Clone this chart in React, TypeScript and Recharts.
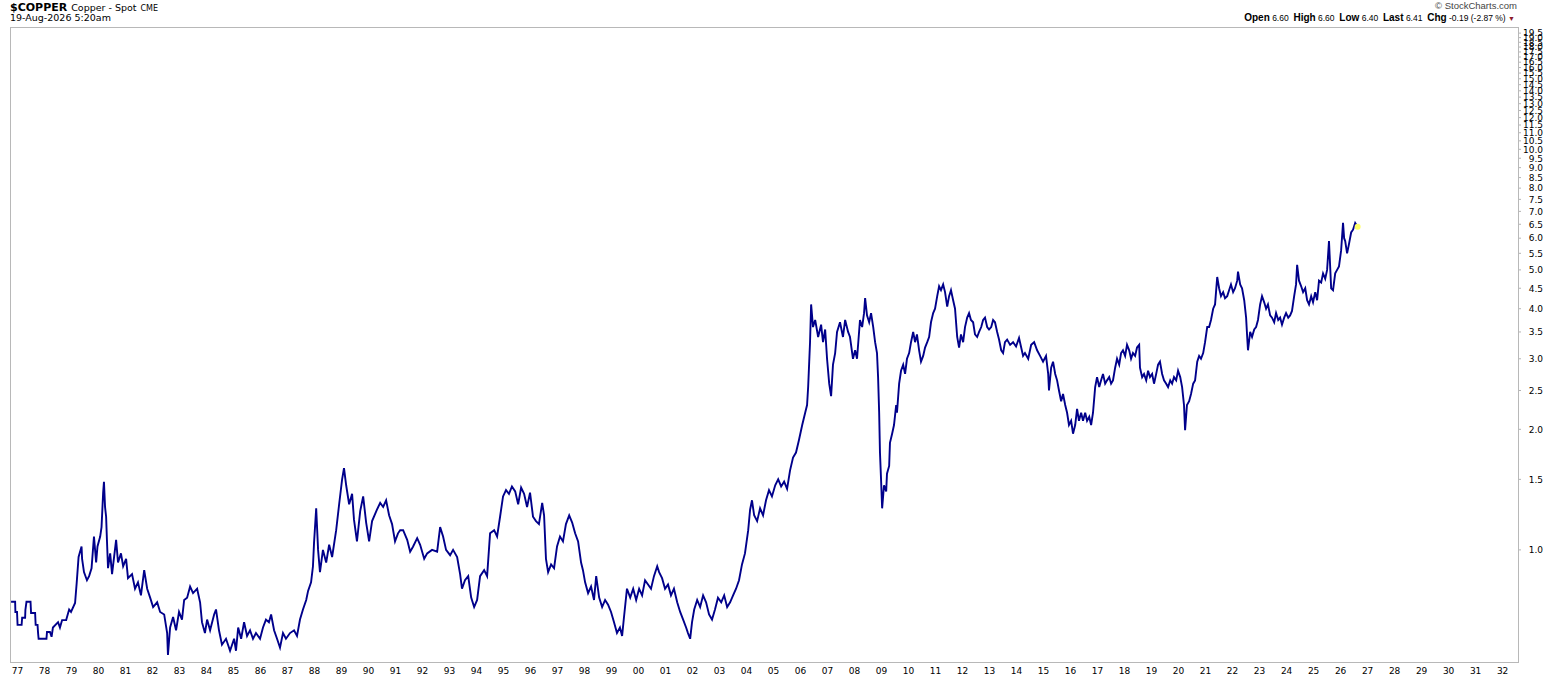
import React from 'react';
import { LineChart, Line, XAxis, YAxis, ReferenceDot } from 'recharts';

// [decimal year, price in $/lb]
const seg1977to1987: [number, number][] = [
  [1976.76, 0.742], [1976.91, 0.742], [1976.92, 0.7], [1976.98, 0.7], [1977.0, 0.65], [1977.15, 0.65],
  [1977.17, 0.677], [1977.28, 0.677], [1977.29, 0.708], [1977.33, 0.742], [1977.48, 0.742], [1977.5, 0.696],
  [1977.65, 0.696], [1977.67, 0.65], [1977.74, 0.65], [1977.76, 0.62], [1977.78, 0.6], [1978.07, 0.6],
  [1978.09, 0.624], [1978.2, 0.624], [1978.26, 0.607], [1978.31, 0.64], [1978.5, 0.66], [1978.57, 0.64],
  [1978.65, 0.668], [1978.8, 0.668], [1978.91, 0.71], [1978.98, 0.7], [1979.13, 0.737], [1979.19, 0.827],
  [1979.26, 0.96], [1979.37, 1.02], [1979.39, 0.95], [1979.46, 0.88], [1979.57, 0.84], [1979.65, 0.86],
  [1979.74, 0.9], [1979.83, 1.08], [1979.91, 0.93], [1979.96, 1.02], [1980.06, 1.08], [1980.11, 1.14],
  [1980.17, 1.39], [1980.2, 1.48], [1980.24, 1.28], [1980.28, 1.21], [1980.31, 1.06], [1980.35, 0.9],
  [1980.43, 0.98], [1980.5, 0.87], [1980.65, 1.06], [1980.72, 0.93], [1980.83, 0.98], [1980.91, 0.91],
  [1981.02, 0.95], [1981.09, 0.85], [1981.24, 0.87], [1981.35, 0.8], [1981.46, 0.83], [1981.57, 0.77],
  [1981.69, 0.89], [1981.8, 0.8], [1981.91, 0.76], [1982.02, 0.72], [1982.17, 0.74], [1982.28, 0.7],
  [1982.43, 0.69], [1982.54, 0.62], [1982.57, 0.547], [1982.65, 0.64], [1982.76, 0.68], [1982.87, 0.63],
  [1982.98, 0.7], [1983.09, 0.67], [1983.17, 0.75], [1983.28, 0.76], [1983.39, 0.81], [1983.5, 0.78],
  [1983.65, 0.8], [1983.76, 0.74], [1983.83, 0.66], [1983.94, 0.62], [1984.02, 0.67], [1984.13, 0.63],
  [1984.28, 0.69], [1984.35, 0.71], [1984.46, 0.63], [1984.57, 0.58], [1984.72, 0.6], [1984.87, 0.56],
  [1985.02, 0.6], [1985.09, 0.56], [1985.17, 0.64], [1985.28, 0.6], [1985.39, 0.66], [1985.5, 0.61],
  [1985.61, 0.63], [1985.72, 0.6], [1985.83, 0.62], [1985.98, 0.6], [1986.09, 0.64], [1986.2, 0.67],
  [1986.31, 0.66], [1986.39, 0.69], [1986.5, 0.63], [1986.61, 0.6], [1986.72, 0.57], [1986.83, 0.62],
  [1986.94, 0.6], [1987.09, 0.62], [1987.24, 0.63], [1987.35, 0.61], [1987.46, 0.67], [1987.57, 0.71],
  [1987.69, 0.75], [1987.76, 0.79], [1987.87, 0.83], [1987.94, 0.91],
];

const seg1988to1999: [number, number][] = [
  [1987.98, 1.04], [1988.06, 1.27], [1988.13, 1.0], [1988.2, 0.88], [1988.31, 1.0], [1988.43, 0.93],
  [1988.54, 1.03], [1988.65, 0.96], [1988.8, 1.12], [1988.91, 1.3], [1989.02, 1.5], [1989.09, 1.6],
  [1989.17, 1.45], [1989.28, 1.3], [1989.39, 1.38], [1989.46, 1.19], [1989.57, 1.05], [1989.69, 1.25],
  [1989.8, 1.36], [1989.91, 1.17], [1990.02, 1.05], [1990.13, 1.18], [1990.31, 1.26], [1990.43, 1.31],
  [1990.54, 1.28], [1990.65, 1.33], [1990.76, 1.22], [1990.87, 1.16], [1990.98, 1.05], [1991.09, 1.1],
  [1991.17, 1.12], [1991.28, 1.12], [1991.43, 1.06], [1991.54, 0.99], [1991.65, 1.02], [1991.8, 1.07],
  [1991.91, 1.03], [1992.06, 0.95], [1992.17, 0.98], [1992.35, 1.0], [1992.54, 0.99], [1992.65, 1.14],
  [1992.76, 1.08], [1992.87, 1.0], [1993.02, 0.97], [1993.13, 1.0], [1993.28, 0.96], [1993.39, 0.87],
  [1993.46, 0.8], [1993.57, 0.84], [1993.69, 0.86], [1993.8, 0.76], [1993.91, 0.72], [1994.02, 0.75],
  [1994.13, 0.86], [1994.28, 0.89], [1994.39, 0.86], [1994.5, 1.1], [1994.65, 1.12], [1994.76, 1.08],
  [1994.87, 1.21], [1994.98, 1.36], [1995.09, 1.41], [1995.2, 1.38], [1995.31, 1.44], [1995.43, 1.4],
  [1995.54, 1.3], [1995.65, 1.43], [1995.76, 1.38], [1995.87, 1.28], [1995.98, 1.39], [1996.09, 1.21],
  [1996.2, 1.18], [1996.31, 1.16], [1996.43, 1.31], [1996.5, 1.22], [1996.57, 0.95], [1996.65, 0.88],
  [1996.76, 0.92], [1996.87, 0.9], [1996.98, 1.02], [1997.09, 1.08], [1997.2, 1.05], [1997.31, 1.16],
  [1997.43, 1.22], [1997.54, 1.17], [1997.65, 1.1], [1997.76, 1.05], [1997.87, 0.93], [1997.94, 0.89],
  [1998.02, 0.83], [1998.13, 0.78], [1998.24, 0.81], [1998.35, 0.75], [1998.43, 0.86], [1998.54, 0.76],
  [1998.65, 0.72], [1998.76, 0.75], [1998.87, 0.73], [1998.98, 0.7], [1999.09, 0.66], [1999.2, 0.62],
  [1999.31, 0.64], [1999.39, 0.61], [1999.46, 0.68], [1999.57, 0.8], [1999.69, 0.76], [1999.8, 0.8],
  [1999.91, 0.75],
];

const seg2000to2010: [number, number][] = [
  [2000.02, 0.8], [2000.13, 0.77], [2000.24, 0.84], [2000.35, 0.82], [2000.46, 0.8], [2000.57, 0.86],
  [2000.69, 0.91], [2000.76, 0.88], [2000.87, 0.85], [2000.98, 0.8], [2001.09, 0.82], [2001.2, 0.77],
  [2001.31, 0.8], [2001.43, 0.74], [2001.54, 0.7], [2001.65, 0.67], [2001.76, 0.64], [2001.83, 0.62],
  [2001.91, 0.6], [2001.98, 0.66], [2002.06, 0.71], [2002.17, 0.75], [2002.28, 0.72], [2002.39, 0.77],
  [2002.5, 0.74], [2002.61, 0.69], [2002.72, 0.67], [2002.83, 0.71], [2002.94, 0.76], [2003.06, 0.74],
  [2003.17, 0.77], [2003.28, 0.72], [2003.39, 0.74], [2003.5, 0.77], [2003.61, 0.8], [2003.72, 0.84],
  [2003.83, 0.92], [2003.94, 0.98], [2004.06, 1.12], [2004.13, 1.26], [2004.2, 1.33], [2004.28, 1.22],
  [2004.39, 1.18], [2004.5, 1.27], [2004.61, 1.22], [2004.72, 1.33], [2004.83, 1.41], [2004.94, 1.36],
  [2005.06, 1.45], [2005.17, 1.5], [2005.28, 1.44], [2005.39, 1.48], [2005.5, 1.42], [2005.61, 1.58],
  [2005.72, 1.7], [2005.83, 1.75], [2005.94, 1.88], [2006.06, 2.05], [2006.17, 2.2], [2006.24, 2.3],
  [2006.28, 2.55], [2006.35, 3.3], [2006.39, 4.1], [2006.46, 3.6], [2006.54, 3.75], [2006.65, 3.4],
  [2006.76, 3.65], [2006.83, 3.3], [2006.91, 3.55], [2006.98, 3.0], [2007.06, 2.6], [2007.13, 2.42],
  [2007.2, 2.9], [2007.28, 3.1], [2007.35, 3.5], [2007.46, 3.7], [2007.57, 3.4], [2007.65, 3.75],
  [2007.76, 3.5], [2007.83, 3.4], [2007.94, 3.0], [2008.02, 3.15], [2008.09, 3.0], [2008.2, 3.75],
  [2008.28, 3.6], [2008.35, 3.9], [2008.39, 4.25], [2008.46, 3.85], [2008.54, 3.7], [2008.61, 3.9],
  [2008.69, 3.6], [2008.76, 3.3], [2008.83, 3.1], [2008.87, 2.7], [2008.91, 2.2], [2008.94, 1.75],
  [2008.98, 1.5], [2009.02, 1.27], [2009.09, 1.45], [2009.17, 1.4], [2009.2, 1.55], [2009.28, 1.62],
  [2009.31, 1.85], [2009.39, 1.95], [2009.46, 2.05], [2009.54, 2.3], [2009.57, 2.2], [2009.65, 2.6],
  [2009.72, 2.8], [2009.8, 2.9], [2009.87, 2.75], [2009.94, 3.0], [2010.02, 3.1], [2010.09, 3.3],
  [2010.17, 3.5], [2010.24, 3.3], [2010.31, 3.45], [2010.39, 3.15], [2010.46, 2.95], [2010.54, 3.05],
  [2010.61, 3.2], [2010.69, 3.3], [2010.76, 3.4], [2010.83, 3.7], [2010.91, 3.9], [2010.98, 4.0],
];

const seg2011to2019: [number, number][] = [
  [2011.06, 4.3], [2011.13, 4.55], [2011.2, 4.45], [2011.28, 4.6], [2011.35, 4.4], [2011.43, 4.05],
  [2011.5, 4.3], [2011.57, 4.45], [2011.65, 4.2], [2011.72, 4.0], [2011.8, 3.4], [2011.87, 3.2],
  [2011.94, 3.45], [2012.02, 3.3], [2012.09, 3.6], [2012.17, 3.8], [2012.24, 3.9], [2012.31, 3.75],
  [2012.39, 3.7], [2012.46, 3.45], [2012.54, 3.4], [2012.61, 3.5], [2012.69, 3.6], [2012.76, 3.75],
  [2012.83, 3.8], [2012.91, 3.6], [2012.98, 3.55], [2013.06, 3.6], [2013.13, 3.75], [2013.2, 3.7],
  [2013.28, 3.5], [2013.35, 3.35], [2013.43, 3.15], [2013.5, 3.1], [2013.57, 3.3], [2013.65, 3.35],
  [2013.76, 3.25], [2013.87, 3.3], [2013.98, 3.22], [2014.09, 3.38], [2014.17, 3.2], [2014.24, 3.05],
  [2014.31, 3.1], [2014.43, 3.0], [2014.54, 3.25], [2014.65, 3.3], [2014.76, 3.15], [2014.87, 3.05],
  [2014.98, 2.95], [2015.09, 3.05], [2015.17, 2.75], [2015.2, 2.5], [2015.28, 2.85], [2015.35, 2.95],
  [2015.43, 2.75], [2015.5, 2.65], [2015.57, 2.5], [2015.65, 2.35], [2015.72, 2.45], [2015.8, 2.3],
  [2015.87, 2.2], [2015.94, 2.05], [2016.02, 2.1], [2016.09, 1.95], [2016.17, 2.05], [2016.24, 2.25],
  [2016.31, 2.1], [2016.39, 2.2], [2016.46, 2.1], [2016.54, 2.2], [2016.61, 2.1], [2016.69, 2.15],
  [2016.76, 2.05], [2016.83, 2.2], [2016.91, 2.55], [2016.98, 2.7], [2017.06, 2.55], [2017.13, 2.65],
  [2017.2, 2.75], [2017.28, 2.6], [2017.35, 2.65], [2017.43, 2.7], [2017.5, 2.6], [2017.57, 2.65],
  [2017.65, 2.85], [2017.72, 3.0], [2017.8, 2.9], [2017.87, 3.1], [2017.94, 3.15], [2018.02, 3.05],
  [2018.09, 3.25], [2018.17, 3.15], [2018.24, 3.0], [2018.31, 3.1], [2018.39, 3.05], [2018.46, 3.2],
  [2018.54, 3.25], [2018.57, 2.85], [2018.65, 2.7], [2018.72, 2.75], [2018.8, 2.65], [2018.87, 2.8],
  [2018.94, 2.7], [2019.02, 2.75], [2019.09, 2.6], [2019.17, 2.75], [2019.24, 2.9], [2019.31, 2.95],
  [2019.39, 2.75], [2019.46, 2.65], [2019.54, 2.6], [2019.61, 2.55], [2019.69, 2.65], [2019.76, 2.6],
  [2019.83, 2.7], [2019.91, 2.65], [2019.98, 2.8],
];

const seg2020to2026: [number, number][] = [
  [2020.06, 2.7], [2020.13, 2.55], [2020.2, 2.3], [2020.24, 1.99], [2020.31, 2.3], [2020.39, 2.35],
  [2020.46, 2.45], [2020.54, 2.6], [2020.61, 2.65], [2020.69, 2.95], [2020.76, 3.05], [2020.83, 3.0],
  [2020.91, 3.1], [2020.98, 3.3], [2021.06, 3.6], [2021.13, 3.6], [2021.2, 3.75], [2021.28, 4.0],
  [2021.35, 4.1], [2021.43, 4.8], [2021.5, 4.5], [2021.57, 4.3], [2021.65, 4.4], [2021.72, 4.25],
  [2021.8, 4.3], [2021.87, 4.45], [2021.94, 4.6], [2022.02, 4.4], [2022.09, 4.5], [2022.17, 4.7],
  [2022.2, 4.95], [2022.28, 4.6], [2022.35, 4.5], [2022.43, 4.2], [2022.5, 3.8], [2022.54, 3.4],
  [2022.57, 3.15], [2022.65, 3.5], [2022.72, 3.4], [2022.8, 3.55], [2022.87, 3.6], [2022.94, 3.75],
  [2023.02, 4.1], [2023.09, 4.3], [2023.17, 4.15], [2023.24, 4.0], [2023.31, 4.1], [2023.39, 3.85],
  [2023.46, 3.8], [2023.54, 3.7], [2023.61, 3.9], [2023.69, 3.75], [2023.76, 3.8], [2023.83, 3.65],
  [2023.91, 3.8], [2023.98, 3.9], [2024.06, 3.8], [2024.13, 3.85], [2024.2, 3.95], [2024.28, 4.3],
  [2024.35, 4.6], [2024.39, 5.15], [2024.46, 4.7], [2024.54, 4.55], [2024.61, 4.4], [2024.69, 4.5],
  [2024.76, 4.2], [2024.83, 4.1], [2024.91, 4.3], [2024.98, 4.15], [2025.06, 4.4], [2025.13, 4.2],
  [2025.2, 4.7], [2025.28, 4.65], [2025.35, 4.9], [2025.43, 4.75], [2025.5, 5.0], [2025.57, 5.9],
  [2025.65, 4.5], [2025.72, 4.45], [2025.8, 4.9], [2025.87, 5.0], [2025.94, 5.1], [2026.02, 5.6],
  [2026.09, 6.55], [2026.13, 6.0], [2026.17, 5.9], [2026.24, 5.5], [2026.31, 5.8], [2026.39, 6.2],
  [2026.46, 6.3], [2026.54, 6.55], [2026.63, 6.41],
];

const priceTicks = [
  1.0, 1.5, 2.0, 2.5, 3.0, 3.5, 4.0, 4.5, 5.0, 5.5, 6.0, 6.5, 7.0, 7.5, 8.0, 8.5, 9.0, 9.5, 10.0,
  10.5, 11.0, 11.5, 12.0, 12.5, 13.0, 13.5, 14.0, 14.5, 15.0, 15.5, 16.0, 16.5, 17.0, 17.5, 18.0,
  18.5, 19.0, 19.5,
];

const yearTicks = [
  1977, 1978, 1979, 1980, 1981, 1982, 1983, 1984, 1985, 1986, 1987, 1988, 1989, 1990, 1991, 1992,
  1993, 1994, 1995, 1996, 1997, 1998, 1999, 2000, 2001, 2002, 2003, 2004, 2005, 2006, 2007, 2008,
  2009, 2010, 2011, 2012, 2013, 2014, 2015, 2016, 2017, 2018, 2019, 2020, 2021, 2022, 2023, 2024,
  2025, 2026, 2027, 2028, 2029, 2030, 2031, 2032,
];

const yearLabels = [
  '77', '78', '79', '80', '81', '82', '83', '84', '85', '86', '87', '88', '89', '90', '91', '92',
  '93', '94', '95', '96', '97', '98', '99', '00', '01', '02', '03', '04', '05', '06', '07', '08',
  '09', '10', '11', '12', '13', '14', '15', '16', '17', '18', '19', '20', '21', '22', '23', '24',
  '25', '26', '27', '28', '29', '30', '31', '32',
];

const symbol = '$COPPER';
const description = 'Copper - Spot';
const exchange = 'CME';
const timestamp = '19-Aug-2026 5:20am';
const quote = { open: '6.60', high: '6.60', low: '6.40', last: '6.41', chg: '-0.19 (-2.87 %)' };
const lastPoint = { t: 2026.63, v: 6.41 };

const data = [...seg1977to1987, ...seg1988to1999, ...seg2000to2010, ...seg2011to2019, ...seg2020to2026].map(
  ([t, v]) => ({ t, v })
);

const FONT = "'DejaVu Sans', 'Liberation Sans', Arial, sans-serif";
const ARIAL = "'Liberation Sans', Arial, sans-serif";

const XTick = (props: any) => {
  const { x, y, payload } = props;
  const idx = yearTicks.indexOf(payload.value);
  return (
    <text x={x} y={y + 12} textAnchor="middle" fontSize={9} fontFamily={FONT} fill="#000">
      {idx >= 0 ? yearLabels[idx] : ''}
    </text>
  );
};

const YTick = (props: any) => {
  const { x, y, payload } = props;
  return (
    <g>
      <line x1={x} x2={x + 3} y1={y} y2={y} stroke="#b4b4b4" strokeWidth={1} />
      <text x={x + 25} y={y + 3.3} textAnchor="end" fontSize={9} fontFamily={FONT} fill="#000">
        {Number(payload.value).toFixed(1)}
      </text>
    </g>
  );
};

const B = ({ children }: { children: React.ReactNode }) => (
  <span style={{ fontWeight: 'bold', fontSize: 10 }}>{children}</span>
);

export default function App() {
  return (
    <div
      style={{
        position: 'absolute',
        left: 0,
        top: 0,
        width: 1553,
        height: 681,
        background: '#fff',
        overflow: 'hidden',
        fontFamily: FONT,
      }}
    >
      <div style={{ position: 'absolute', left: 10, top: 0, lineHeight: '12px', whiteSpace: 'nowrap' }}>
        <span style={{ fontWeight: 'bold', fontSize: 11 }}>{symbol}</span>
        <span style={{ fontSize: 9.5, marginLeft: 4 }}>{description}</span>
        <span style={{ fontSize: 8, marginLeft: 4 }}>{exchange}</span>
      </div>
      <div style={{ position: 'absolute', left: 10, top: 12, lineHeight: '12px', fontSize: 9.5, whiteSpace: 'nowrap' }}>
        {timestamp}
      </div>
      <div
        style={{
          position: 'absolute',
          right: 36,
          top: 0,
          lineHeight: '12px',
          fontSize: 9.5,
          fontFamily: ARIAL,
          color: '#444',
          whiteSpace: 'nowrap',
        }}
      >
        © StockCharts.com
      </div>
      <div
        style={{
          position: 'absolute',
          right: 38,
          top: 12,
          lineHeight: '12px',
          fontSize: 8.5,
          fontFamily: ARIAL,
          whiteSpace: 'nowrap',
        }}
      >
        <B>Open</B> {quote.open} &nbsp;<B>High</B> {quote.high} &nbsp;<B>Low</B> {quote.low} &nbsp;<B>Last</B>{' '}
        {quote.last} &nbsp;<B>Chg</B> {quote.chg} <span style={{ color: '#8b1a2b', fontSize: 7 }}>▼</span>
      </div>

      <div style={{ position: 'absolute', left: 0, top: 0 }}>
        <LineChart width={1553} height={681} data={data} margin={{ top: 27, right: 0, bottom: 0, left: 10 }}>
          <XAxis
            dataKey="t"
            type="number"
            domain={[1976.72, 2032.57]}
            ticks={yearTicks}
            interval={0}
            height={19}
            axisLine={false}
            tickLine={false}
            tickSize={0}
            tickMargin={0}
            tick={<XTick />}
            allowDataOverflow
          />
          <YAxis
            orientation="right"
            type="number"
            scale="log"
            domain={[0.525, 20.2]}
            ticks={priceTicks}
            interval={0}
            width={35}
            axisLine={false}
            tickLine={false}
            tickSize={0}
            tickMargin={0}
            tick={<YTick />}
            allowDataOverflow
          />
          <ReferenceDot x={lastPoint.t} y={lastPoint.v} r={3} fill="#ffff66" stroke="none" />
          <Line
            dataKey="v"
            type="linear"
            stroke="#00008b"
            strokeWidth={1.9}
            strokeLinejoin="miter"
            dot={false}
            isAnimationActive={false}
          />
        </LineChart>
      </div>

      <div
        style={{
          position: 'absolute',
          left: 10,
          top: 27,
          width: 1509,
          height: 636,
          boxSizing: 'border-box',
          border: '1px solid #b8b8b8',
          pointerEvents: 'none',
        }}
      />
    </div>
  );
}
